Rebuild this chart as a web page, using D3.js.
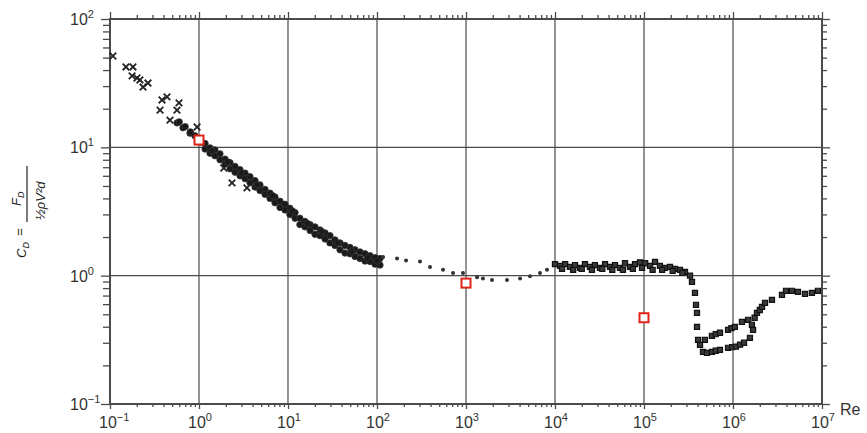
<!DOCTYPE html>
<html>
<head>
<meta charset="utf-8">
<script src="https://cdn.jsdelivr.net/npm/d3@7"></script>
<style>
  body { margin: 0; background: #fff; }
  svg { font-family: "Liberation Sans", Arial, sans-serif; }
</style>
</head>
<body>
<div id="display"><svg width="867" height="433"></svg></div>
<script>
// decades on each axis
var xDecades = [-1, 0, 1, 2, 3, 4, 5, 6, 7];
var yDecades = [-1, 0, 1, 2];

// [Re, Cd]
var crossPts = [[0.108,51.5],[0.151,42.3],[0.181,42.3],[0.177,36.0],[0.201,34.7],[0.217,33.5],
  [0.235,29.5],[0.267,31.7],[0.384,23.4],[0.437,24.7],[0.596,22.2],[0.566,19.5],[0.365,19.5],
  [0.472,16.3],[0.951,14.4],[2.35,5.28],[3.46,4.83],[1.9,6.9]];
var bandPts = [[0.566,15.5],[0.661,14.2],[0.792,12.9],[0.6,15.8],[0.7,14.5],[0.8,13.2],[0.9,12.3],[1.05,11.0],
  [1.17,10.7],[1.17,9.7],[1.33,9.9],[1.33,9.0],[1.51,9.55],[1.51,8.6],[1.72,8.9],[1.72,8.0],
  [1.96,8.1],[1.96,7.4],[2.23,7.6],[2.23,6.8],[2.54,7.1],[2.54,6.4],[2.89,6.7],[2.89,6.0],
  [3.29,6.3],[3.29,5.7],[3.74,5.9],[3.74,5.3],[4.26,5.5],[4.26,4.9],[4.84,5.1],[4.84,4.6],
  [5.52,4.7],[5.52,4.3],[6.28,4.4],[6.28,4.0],[7.14,4.1],[7.14,3.7],[8.13,3.8],[8.13,3.4],
  [9.25,3.6],[9.25,3.25],[10.5,3.35],[10.5,3.0],[12.0,3.1],[12.0,2.8],[13.6,2.8],[13.6,2.5],
  [15.5,2.65],[15.5,2.4],[17.7,2.5],[17.7,2.25],[20.1,2.4],[20.1,2.1],[22.9,2.27],[22.9,2.05],
  [26.1,2.15],[26.1,1.93],[29.6,2.05],[29.6,1.8],[33.7,1.9],[33.7,1.72],[38.4,1.8],[38.4,1.59],
  [43.7,1.72],[43.7,1.5],[49.7,1.66],[49.7,1.48],[56.6,1.59],[56.6,1.41],[64.4,1.53],[64.4,1.36],
  [73.3,1.48],[73.3,1.30],[83.4,1.43],[83.4,1.29],[95,1.38],[95,1.23],[108,1.36],[108,1.21],
  [1.4,9.4],[2.1,7.7],[3.0,6.3],[4.5,5.1],[6.7,4.2],[11.2,3.2],[16.5,2.55],[24,2.2],[36,1.8],
  [52,1.55],[78,1.38],[100,1.3]];
var midPts = [[117,1.40],[168,1.36],[212,1.31],[304,1.29],[394,1.17],[552,1.11],[715,1.05],
  [925,1.05],[1330,0.97],[1550,0.95],[1960,0.927],[2890,0.927],[4050,0.95],[5240,0.99],
  [6780,1.05],[8130,1.11]];
var highPts = [[1.0e4,1.23],[1.14e4,1.19],[1.30e4,1.23],[1.47e4,1.17],[1.68e4,1.21],[1.91e4,1.15],
  [2.17e4,1.23],[2.47e4,1.17],[2.81e4,1.21],[3.2e4,1.15],[3.65e4,1.23],[4.15e4,1.17],[4.72e4,1.21],
  [5.37e4,1.15],[6.12e4,1.25],[6.96e4,1.17],[7.93e4,1.23],[9.0e4,1.27],[1.03e5,1.25],[1.17e5,1.19],
  [1.33e5,1.28],[1.51e5,1.19],[1.72e5,1.15],[1.96e5,1.17],[2.23e5,1.13],[2.54e5,1.11],[2.89e5,1.07],
  [3.29e5,1.0],[1.2e4,1.13],[1.6e4,1.11],[2.0e4,1.13],[2.6e4,1.11],[3.4e4,1.13],[4.4e4,1.11],
  [5.8e4,1.11],[7.5e4,1.13],[9.5e4,1.15],[1.25e5,1.11],[1.6e5,1.11],[2.1e5,1.09],[2.7e5,1.05],
  [3.46e5,0.895],[3.74e5,0.734],[3.84e5,0.593],[3.94e5,0.513],[3.94e5,0.399],[4.05e5,0.316],
  [4.26e5,0.289],[4.6e5,0.255],[5.1e5,0.25],[5.8e5,0.255],[6.4e5,0.26],[7.14e5,0.264],[8.8e5,0.274],
  [9.8e5,0.277],[1.08e6,0.28],[1.2e6,0.29],[1.33e6,0.30],[1.55e6,0.328],[4.84e5,0.316],[5.8e5,0.34],
  [6.4e5,0.35],[7.14e5,0.359],[8.8e5,0.378],[9.6e5,0.39],[1.05e6,0.399],[1.26e6,0.436],[1.48e6,0.453],
  [1.63e6,0.414],[1.68e6,0.378],[1.75e6,0.47],[1.86e6,0.513],[2.0e6,0.54],[2.12e6,0.571],
  [2.29e6,0.614],[2.74e6,0.648],[3.55e6,0.708],[3.94e6,0.762],[4.6e6,0.762],[5.37e6,0.748],
  [6.44e6,0.72],[7.7e6,0.735],[9.0e6,0.762]];
var redPts = [[1.0,11.4],[1.0e3,0.875],[1.0e5,0.47]];

var svg = d3.select("#display svg");
var x = d3.scaleLog().domain([0.1, 1e7]).range([110, 822]);
var y = d3.scaleLog().domain([0.1, 100]).range([404, 19]);
var ink = "#4a4a4a";

function minors(lo, hi) {
  var out = [];
  for (var k = lo; k < hi; k++)
    for (var m = 2; m <= 9; m++) out.push(m * Math.pow(10, k));
  return out;
}
var xMinor = minors(-1, 7), yMinor = minors(-1, 2);
var xMajor = xDecades.map(function(d) { return Math.pow(10, d); });
var yMajor = yDecades.map(function(d) { return Math.pow(10, d); });

// grid
svg.append("g").selectAll("line").data(xMajor).join("line")
  .attr("x1", d => x(d)).attr("x2", d => x(d)).attr("y1", 19).attr("y2", 404)
  .attr("stroke", ink).attr("stroke-width", 1.2);
svg.append("g").selectAll("line").data(yMajor).join("line")
  .attr("x1", 110).attr("x2", 822).attr("y1", d => y(d)).attr("y2", d => y(d))
  .attr("stroke", ink).attr("stroke-width", 1.2);

// minor ticks via axes
function tickAxis(axis, tr, vals, len) {
  var g = svg.append("g").attr("transform", tr)
    .call(axis.tickValues(vals).tickSize(len).tickFormat(""));
  g.select(".domain").remove();
  g.selectAll("line").attr("stroke", ink).attr("stroke-width", 1.3);
}
tickAxis(d3.axisLeft(y), "translate(110,0)", yMinor, 7);
tickAxis(d3.axisLeft(y), "translate(110,0)", yMajor, 9);
tickAxis(d3.axisRight(y), "translate(822,0)", yMinor, 5);
tickAxis(d3.axisRight(y), "translate(822,0)", yMajor, 8);
tickAxis(d3.axisTop(x), "translate(0,19)", xMinor, 4);
tickAxis(d3.axisTop(x), "translate(0,19)", xMajor, 7);
tickAxis(d3.axisBottom(x), "translate(0,404)", xMinor, 3);
tickAxis(d3.axisBottom(x), "translate(0,404)", xMajor, 5);

// frame
svg.append("rect").attr("x", 110).attr("y", 19).attr("width", 712).attr("height", 385)
  .attr("fill", "none").attr("stroke", ink).attr("stroke-width", 2);

// tick labels with superscripts
function expLabel(sel) {
  sel.append("tspan").text("10");
  sel.append("tspan").attr("dy", -7).attr("font-size", 11)
    .text(d => d < 0 ? "\u2212" + (-d) : d);
}
svg.append("g").selectAll("text").data(yDecades).join("text")
  .attr("x", 70).attr("y", d => y(Math.pow(10, d)) + 6)
  .attr("font-size", 16).attr("fill", "#333").call(expLabel);
svg.append("g").selectAll("text").data(xDecades).join("text")
  .attr("x", d => x(Math.pow(10, d)) - 11).attr("y", 428)
  .attr("font-size", 16).attr("fill", "#333").call(expLabel);
svg.append("text").attr("x", 840).attr("y", 415).attr("font-size", 16)
  .attr("fill", "#333").text("Re");

// y label, rotated
var yl = svg.append("g").attr("transform", "translate(27,258) rotate(-90)")
  .attr("font-style", "italic").attr("font-size", 13).attr("fill", "#222");
yl.append("text").attr("x", 0).attr("y", -1).html('C<tspan font-size="9" dy="3">D</tspan>');
yl.append("text").attr("x", 22).attr("y", -3).text("=");
yl.append("line").attr("x1", 36).attr("x2", 92).attr("y1", 0).attr("y2", 0)
  .attr("stroke", "#222").attr("stroke-width", 1.2);
yl.append("text").attr("x", 52).attr("y", -6).html('F<tspan font-size="9" dy="3">D</tspan>');
yl.append("text").attr("x", 38).attr("y", 18).text("\u00bd\u03c1V\u00b2d");

// data
var times = d3.symbol().type(d3.symbolTimes).size(30);
svg.append("g").selectAll("path").data(crossPts).join("path")
  .attr("transform", d => "translate(" + x(d[0]) + "," + y(d[1]) + ")")
  .attr("d", times).attr("fill", "none").attr("stroke", "#222").attr("stroke-width", 1.8);

svg.append("g").selectAll("circle").data(bandPts).join("circle")
  .attr("cx", d => x(d[0])).attr("cy", d => y(d[1])).attr("r", 3.2)
  .attr("fill", "#1a1a1a").attr("stroke", "#333").attr("stroke-width", 0.8);

svg.append("g").selectAll("circle").data(midPts).join("circle")
  .attr("cx", d => x(d[0])).attr("cy", d => y(d[1])).attr("r", 2)
  .attr("fill", "#333");

var sq = d3.symbol().type(d3.symbolSquare).size(26);
svg.append("g").selectAll("path").data(highPts).join("path")
  .attr("transform", d => "translate(" + x(d[0]) + "," + y(d[1]) + ")")
  .attr("d", sq).attr("fill", "#3a3a3a").attr("stroke", "#111").attr("stroke-width", 1.2);

svg.append("g").selectAll("rect").data(redPts).join("rect")
  .attr("x", d => x(d[0]) - 4.5).attr("y", d => y(d[1]) - 4.5)
  .attr("width", 9).attr("height", 9)
  .attr("fill", "#fff").attr("stroke", "#e02418").attr("stroke-width", 2);
</script>
</body>
</html>
